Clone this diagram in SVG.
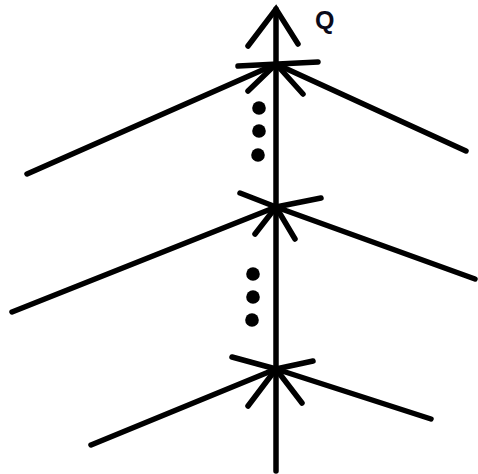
<svg xmlns="http://www.w3.org/2000/svg" width="478" height="474" viewBox="0 0 478 474">
<style>
.l{stroke:#000;stroke-width:5.5;stroke-linecap:round;fill:none}
.d{fill:#000}
.t{font-family:"Liberation Sans",Arial,sans-serif;font-weight:bold;font-size:25px;fill:#0a0a1a}
</style>
<rect width="478" height="474" fill="#fff"/>
<g id="connectors">
<line class="l" x1="276" y1="9" x2="276" y2="471"/>
<polyline class="l" points="248,46 276,9 298,44"/>
</g>
<g id="junction1">
<line class="l" x1="238" y1="66" x2="318" y2="62"/>
<line class="l" x1="276" y1="64" x2="27" y2="174"/>
<line class="l" x1="276" y1="64" x2="466" y2="151"/>
<line class="l" x1="276" y1="64" x2="248" y2="91"/>
<line class="l" x1="276" y1="64" x2="303" y2="94"/>
</g>
<g id="dots1">
<circle class="d" cx="259" cy="108" r="6.8"/>
<circle class="d" cx="259" cy="131" r="6.8"/>
<circle class="d" cx="258" cy="155" r="6.8"/>
</g>
<g id="junction2">
<line class="l" x1="276" y1="207" x2="240" y2="193"/>
<line class="l" x1="276" y1="207" x2="321" y2="198"/>
<line class="l" x1="276" y1="207" x2="12" y2="312"/>
<line class="l" x1="276" y1="207" x2="475" y2="279"/>
<line class="l" x1="276" y1="207" x2="255" y2="234"/>
<line class="l" x1="276" y1="207" x2="295" y2="239"/>
</g>
<g id="dots2">
<circle class="d" cx="253" cy="274" r="6.8"/>
<circle class="d" cx="253" cy="297" r="6.8"/>
<circle class="d" cx="252" cy="320" r="6.8"/>
</g>
<g id="junction3">
<line class="l" x1="276" y1="369" x2="232" y2="357"/>
<line class="l" x1="276" y1="369" x2="313" y2="361"/>
<line class="l" x1="276" y1="369" x2="91" y2="445"/>
<line class="l" x1="276" y1="369" x2="431" y2="419"/>
<line class="l" x1="276" y1="369" x2="248" y2="406"/>
<line class="l" x1="276" y1="369" x2="302" y2="403"/>
</g>
<g id="label">
<text class="t" x="315" y="29">Q</text>
</g>
</svg>
